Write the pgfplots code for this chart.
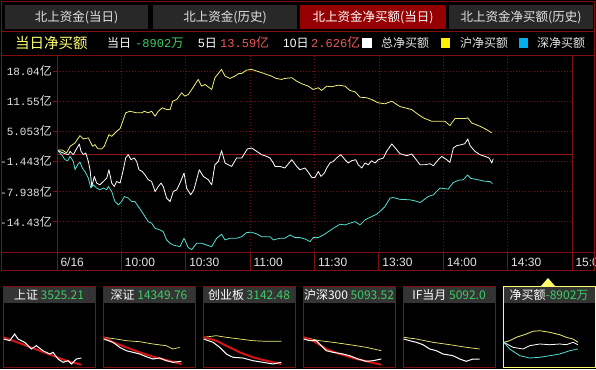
\documentclass[border=0pt]{standalone}
\usepackage{fontspec}
\usepackage{pgfplots}
\pgfplotsset{compat=1.18}
\setmainfont{Liberation Sans}
\newfontfamily\cjk{Noto Sans CJK SC}
\newfontfamily\mono{Liberation Mono}
\definecolor{frame}{RGB}{128,16,16}
\definecolor{griddk}{RGB}{110,18,18}
\definecolor{zerored}{RGB}{150,24,24}
\definecolor{tabgray}{RGB}{40,40,40}
\definecolor{tabred}{RGB}{150,0,0}
\definecolor{ylwline}{RGB}{240,240,120}
\definecolor{cyanline}{RGB}{80,222,210}
\definecolor{greentxt}{RGB}{60,205,100}
\definecolor{redtxt}{RGB}{240,85,85}
\definecolor{ylwtxt}{RGB}{255,255,110}
\definecolor{lbl}{RGB}{228,228,228}
\definecolor{hdr}{RGB}{52,52,52}
\definecolor{avgred}{RGB}{215,20,20}
\newcommand{\yl}[1]{{\mono\fontsize{11}{11}\selectfont #1}{\cjk\fontsize{12}{12}\selectfont 亿}}
\pgfplotsset{thumb/.style={hide axis, scale only axis, width=92pt, height=63pt,
  xmin=0, xmax=92, ymin=0, ymax=63, y dir=reverse, anchor=south west, clip=false}}
\begin{document}
\begin{tikzpicture}
\begin{scope}[x=1pt,y=1pt]
\path[fill=black] (0,0) rectangle (596,-369);
% tabs
\fill[tabgray] (5,-5) rectangle (148,-29);
\fill[tabgray] (153,-5) rectangle (297,-29);
\fill[tabred] (300,-5) rectangle (446,-29);
\fill[tabgray] (449,-5) rectangle (593,-29);
\node[text=lbl] at (76.5,-17) {\cjk\fontsize{12.5}{13}\selectfont 北上资金(当日)};
\node[text=lbl] at (225,-17) {\cjk\fontsize{12.5}{13}\selectfont 北上资金(历史)};
\node[text=white] at (373,-17) {\cjk\fontsize{12.5}{13}\selectfont 北上资金净买额(当日)};
\node[text=lbl] at (521,-17) {\cjk\fontsize{12.5}{13}\selectfont 北上资金净买额(历史)};
% info row
\node[anchor=west, text=ylwtxt, inner sep=0] at (15,-43) {\cjk\fontsize{14.5}{15}\selectfont 当日净买额};
\node[anchor=west, text=white, inner sep=0] at (107,-43) {\cjk\fontsize{12}{13}\selectfont 当日};
\node[anchor=west, text=greentxt, inner sep=0] at (135,-43) {{\mono\fontsize{12}{13}\selectfont -8902}{\cjk\fontsize{12.5}{13}\selectfont 万}};
\node[anchor=west, text=white, inner sep=0] at (198,-43) {{\fontsize{12}{13}\selectfont 5}{\cjk\fontsize{12}{13}\selectfont 日}};
\node[anchor=west, text=redtxt, inner sep=0] at (220,-43) {{\mono\fontsize{12}{13}\selectfont 13.59}{\cjk\fontsize{13}{13}\selectfont 亿}};
\node[anchor=west, text=white, inner sep=0] at (283,-43) {{\fontsize{12}{13}\selectfont 10}{\cjk\fontsize{12}{13}\selectfont 日}};
\node[anchor=west, text=redtxt, inner sep=0] at (311,-43) {{\mono\fontsize{12}{13}\selectfont 2.626}{\cjk\fontsize{13}{13}\selectfont 亿}};
\fill[white] (362,-38) rectangle (372,-48);
\node[anchor=west, text=lbl, inner sep=0] at (381,-43) {\cjk\fontsize{12}{13}\selectfont 总净买额};
\fill[yellow] (441,-38) rectangle (450,-48);
\node[anchor=west, text=lbl, inner sep=0] at (460,-43) {\cjk\fontsize{12}{13}\selectfont 沪净买额};
\fill[cyan] (519,-38) rectangle (528,-48);
\node[anchor=west, text=lbl, inner sep=0] at (537,-43) {\cjk\fontsize{12}{13}\selectfont 深净买额};
\end{scope}

\begin{axis}[at={(57pt,-252pt)}, anchor=south west, scale only axis,
  width=515pt, height=196.5pt,
  xmin=0, xmax=240, ymin=-21.0, ymax=21.4,
  axis line style={draw=frame},
  tick pos=left, tick align=outside, major tick length=4pt,
  x tick style={draw=none}, y tick style={draw=frame},
  xtick={0,30,60,90,120,150,180,210,240},
  xticklabels={6/16,10:00,10:30,11:00,11:30,13:30,14:00,14:30,15:00},
  xticklabel style={anchor=west, xshift=0pt, yshift=-6pt, font=\fontsize{12}{13}\selectfont, text=lbl},
  ytick={18.04,11.55,5.053,-1.443,-7.938,-14.43},
  yticklabels={\yl{18.04},\yl{11.55},\yl{5.053},\yl{-1.443},\yl{-7.938},\yl{-14.43}},
  yticklabel style={text=lbl, inner sep=1pt},
  grid=major, grid style={griddk, line width=0.6pt, dash pattern=on 0.8pt off 2.2pt},
  line join=round]
\addplot[zerored, line width=0.9pt] coordinates {(0,0) (240,0)};
\addplot[ylwline, line width=0.8pt] coordinates {(0,1.0)(2.5,1.0)(4.5,0.37)(6.1,1.80)(8.4,2.53)(10.7,4.11)(12.3,3.40)(14.6,3.62)(15.8,2.53)(16.6,1.80)(17.7,2.17)(19.0,1.30)(20.8,1.23)(22.0,1.80)(24.2,4.33)(25.5,3.96)(27.8,5.04)(29.4,5.63)(30.9,7.58)(32.0,9.03)(34.0,9.37)(37.1,9.03)(39.5,9.03)(40.7,9.37)(42.5,9.03)(44.1,9.37)(45.7,8.29)(47.2,9.37)(49.1,10.11)(51.1,9.74)(52.7,9.74)(53.9,11.54)(55.8,11.91)(58.1,13.36)(59.6,12.62)(61.2,12.99)(63.4,14.5)(65.8,16.24)(67.4,14.79)(69.0,15.16)(71.0,14.44)(72.1,14.07)(73.6,16.61)(76.7,18.40)(78.3,16.95)(80.6,16.45)(82.9,16.95)(84.5,17.47)(86.1,17.54)(88.4,18.25)(90.7,18.40)(93.1,18.03)(95.4,17.69)(97.7,17.32)(100.0,16.95)(102.1,16.45)(104.7,16.24)(106.2,16.45)(109.4,16.61)(111.7,15.87)(114.0,15.31)(117.1,14.79)(119.4,14.07)(121.8,14.44)(123.3,13.86)(125.7,14.79)(128.0,14.66)(131.1,15.00)(134.2,14.79)(136.5,13.86)(138.9,13.57)(141.2,12.41)(144.3,12.28)(146.6,11.91)(149.7,11.19)(152.8,10.98)(156.0,11.54)(159.8,10.39)(165.3,9.74)(168.4,8.66)(170.7,7.95)(174.6,7.21)(176.9,7.21)(180.8,7.21)(183.1,6.28)(185.5,7.79)(190.1,7.79)(191.4,7.95)(193.2,6.86)(197.1,6.13)(200.2,5.41)(202.6,4.70)};
\addplot[cyanline, line width=0.8pt] coordinates {(0,1.0)(2.2,0)(3.7,-1.08)(5.0,-1.30)(6.1,-0.37)(7.6,-1.45)(8.4,-3.25)(9.6,-2.17)(10.7,-1.58)(11.8,-2.88)(13.0,-3.62)(14.6,-5.04)(15.8,-7.21)(16.9,-6.50)(18.5,-7.21)(20.0,-7.58)(21.6,-7.21)(23.2,-7.58)(23.9,-6.86)(25.5,-7.95)(27.0,-10.11)(28.6,-10.83)(30.1,-10.11)(31.4,-9.03)(33.2,-9.37)(34.8,-10.11)(36.3,-10.11)(37.9,-11.19)(39.5,-12.28)(41.0,-13.36)(42.5,-14.44)(44.1,-14.79)(45.7,-15.87)(48.0,-16.24)(49.5,-16.61)(51.1,-18.40)(52.7,-19.12)(54.2,-19.49)(57.3,-19.85)(59.2,-18.03)(61.2,-20.07)(62.8,-20.46)(65.1,-19.12)(67.4,-19.12)(69.8,-19.49)(72.1,-19.85)(74.4,-18.03)(76.7,-17.17)(78.3,-18.40)(80.6,-18.03)(83.7,-18.03)(86.1,-17.69)(88.4,-16.78)(90.7,-16.74)(93.1,-17.10)(95.4,-17.69)(99.3,-17.69)(100.8,-18.40)(103.9,-18.03)(106.2,-18.03)(108.6,-17.32)(110.9,-17.90)(113.2,-17.90)(115.6,-18.19)(117.9,-18.77)(119.4,-17.90)(121.8,-17.90)(124.1,-17.32)(126.4,-16.61)(128.8,-15.87)(131.9,-15.00)(134.2,-15.16)(136.5,-14.79)(138.9,-14.44)(141.2,-15.16)(143.5,-14.07)(146.6,-13.36)(149.0,-12.84)(151.3,-11.91)(152.8,-11.19)(155.2,-9.37)(156.7,-9.24)(159.8,-9.63)(164.5,-9.74)(166.8,-9.96)(169.2,-10.33)(173.0,-9.03)(175.4,-8.66)(178.5,-7.21)(182.3,-7.43)(184.7,-6.00)(187.0,-5.52)(189.3,-5.41)(191.3,-4.39)(192.9,-5.13)(196.2,-5.41)(199.4,-5.74)(201.8,-5.78)(202.9,-6.28)};
\addplot[white, line width=0.8pt] coordinates {(0,1.0)(2.2,0.50)(3.7,0.22)(5.3,0)(6.1,0.71)(7.6,0)(10.4,2.32)(11.2,0.71)(12.3,0)(13.4,0.37)(14.6,-1.45)(15.4,-3.25)(16.2,-6.86)(17.4,-4.70)(18.5,-6.13)(20.0,-6.50)(21.6,-5.78)(23.2,-5.04)(24.2,-3.25)(25.5,-6.13)(26.7,-6.86)(27.8,-5.78)(29.4,-6.13)(30.9,-3.25)(32.0,-0.71)(33.2,0)(34.5,-1.08)(36.0,-0.71)(37.1,-1.45)(38.2,-3.25)(39.7,-3.62)(41.0,-4.33)(42.5,-5.41)(44.1,-5.78)(45.7,-7.95)(47.2,-6.86)(48.5,-6.13)(49.5,-6.86)(51.1,-9.37)(52.7,-10.11)(54.2,-7.95)(55.8,-7.58)(57.3,-6.13)(59.2,-3.96)(60.4,-7.21)(62.3,-8.66)(63.8,-7.58)(66.3,-3.25)(68.2,-4.70)(70.5,-5.41)(72.1,-6.50)(73.6,-2.17)(75.2,-1.45)(76.7,0.87)(78.3,-1.80)(79.8,-2.17)(81.4,-2.53)(83.7,-0.71)(86.1,-0.71)(88.7,1.23)(90.7,1.45)(93.1,0.71)(95.4,0)(97.7,-0.37)(99.3,-0.71)(100.8,-1.80)(101.6,-2.53)(103.9,-2.53)(106.2,-2.88)(109.4,-1.08)(111.7,-2.53)(113.2,-3.25)(115.6,-2.88)(117.4,-3.96)(118.7,-4.91)(120.2,-4.91)(121.8,-3.62)(123.0,-4.70)(124.6,-3.96)(125.7,-2.88)(127.2,-1.80)(128.8,-1.45)(130.3,-0.71)(132.3,0)(134.2,-1.08)(135.7,-1.80)(137.3,-1.30)(139.2,-1.08)(140.4,-2.17)(142.0,-2.88)(143.5,-1.80)(145.1,-2.17)(146.6,-1.30)(148.2,-1.80)(149.7,-1.08)(152.1,-0.71)(153.6,0.71)(156.0,2.32)(158.3,1.08)(159.8,0.22)(163.0,-0.22)(165.3,0.15)(166.8,-0.71)(169.2,-2.17)(171.5,-2.17)(173.8,-1.95)(175.4,-2.38)(177.7,-1.08)(179.3,-0.37)(181.6,-1.08)(183.1,-1.67)(184.7,1.45)(186.3,1.95)(188.6,2.17)(190.1,2.38)(191.4,3.40)(192.5,1.95)(194.8,0.71)(197.1,0)(199.4,-0.37)(201.4,-0.71)(202.6,-1.80)(203.3,-0.87)};
\end{axis}

\begin{scope}[x=1pt,y=1pt]
% frame
\draw[frame, line width=0.9pt] (1,-1.5) rectangle (594.5,-270.5);
\draw[frame, line width=0.9pt] (1,-31.5) -- (594.5,-31.5);
\draw[frame, line width=0.9pt] (1,-55.5) -- (594.5,-55.5);
\draw[frame, line width=0.9pt] (1,-252) -- (594.5,-252);
\draw[frame, line width=0.9pt] (57,-55.5) -- (57,-270.5);
\foreach \k in {1,...,8} {\draw[frame, line width=0.9pt] ({57+64.375*\k},-252) -- ({57+64.375*\k},-270.5);}
\draw[frame, line width=0.9pt] (572,-55.5) -- (572,-252);
% thumbnails
\foreach \bx/\nm/\val in {3/上证/3525.21, 103/深证/14349.76, 203/创业板/3142.48, 303/沪深300/5093.52, 403/IF当月/5092.0}{
  \fill[hdr] (\bx,-286) rectangle ({\bx+92},-303);
  \draw[frame, line width=0.9pt] (\bx,-286) rectangle ({\bx+92},-367);
  \node[inner sep=0] at ({\bx+46},-294.5) {\cjk\fontsize{12}{13}\selectfont\color{white}\nm\ \color{greentxt}\val};
}
\fill[hdr] (503,-286) rectangle (595,-303);
\draw[ylwtxt, line width=0.9pt] (503,-286) rectangle (595,-367.5);
\node[inner sep=0] at (549,-294.5) {\cjk\fontsize{12}{13}\selectfont\color{white}净买额\color{greentxt}-8902万};
\fill[ylwtxt] (541,-286) -- (555,-286) -- (548,-278) -- cycle;
\end{scope}

\begin{axis}[thumb, at={(3pt,-367pt)}]
\addplot[avgred, line width=2pt] coordinates {(0.7,33.3)(10,36.7)(23.3,41.7)(36.7,46.7)(50,51.7)(63.3,56.7)(78.3,60.7)};
\addplot[white, line width=1pt] coordinates {(0.7,35)(6.7,36.7)(11.7,30)(15,35)(21.7,38.3)(28.3,45)(33.3,41.7)(40,46.7)(46.7,50)(50,48.3)(55,55)(60,58.3)(65,56.7)(68.3,60)(73.3,55)(78.3,54)};
\end{axis}
\begin{axis}[thumb, at={(103pt,-367pt)}]
\addplot[ylwline, line width=0.7pt] coordinates {(0.7,33.3)(13.3,35)(23.3,36.7)(36.7,37.7)(50,40)(63.3,41.7)(70,45)(76.7,43.3)};
\addplot[avgred, line width=2pt] coordinates {(0.7,33.3)(10,38.3)(23.3,43.3)(36.7,48.3)(50,52.7)(63.3,56)(78.3,60)};
\addplot[white, line width=1pt] coordinates {(0.7,35)(10,38.3)(16.7,43.3)(23.3,46.7)(30,48.3)(36.7,50)(43.3,52.7)(50,55)(56.7,54)(63.3,56.7)(70,58.3)(78.3,57.3)};
\end{axis}
\begin{axis}[thumb, at={(203pt,-367pt)}]
\addplot[ylwline, line width=0.7pt] coordinates {(0.7,33.3)(13.3,31.7)(23.3,33.3)(36.7,35)(50,36.7)(63.3,37.3)(78.3,37.3)};
\addplot[avgred, line width=2pt] coordinates {(0.7,33.3)(13.3,36.7)(23.3,41.7)(36.7,48.3)(50,53.3)(63.3,56.7)(78.3,60)};
\addplot[white, line width=1pt] coordinates {(0.7,35)(10,38.3)(16.7,43.3)(23.3,50)(30,53.3)(40,54)(50,56.7)(60,58.3)(70,60)(78.3,58.3)};
\end{axis}
\begin{axis}[thumb, at={(303pt,-367pt)}]
\addplot[ylwline, line width=0.7pt] coordinates {(0.7,33.3)(16.7,36.7)(30,38.3)(46.7,40.7)(63.3,43.3)(78.3,46.7)};
\addplot[avgred, line width=2pt] coordinates {(0.7,33.3)(10,36.7)(23.3,45)(36.7,50)(50,54)(63.3,57.3)(78.3,60.7)};
\addplot[white, line width=1pt] coordinates {(0.7,35)(6.7,36.7)(13.3,36.7)(18.3,41.7)(23.3,46.7)(30,48.3)(40,50)(46.7,51.7)(55,55)(63.3,57.3)(70,56.7)(78.3,55)};
\end{axis}
\begin{axis}[thumb, at={(403pt,-367pt)}]
\addplot[ylwline, line width=0.7pt] coordinates {(0.7,33.3)(13.3,35)(30,38.3)(46.7,40.7)(63.3,43.3)(76.7,45)};
\addplot[white, line width=1pt] coordinates {(0.7,35)(6.7,36.7)(13.3,38.3)(20,40.7)(26.7,45)(33.3,46.7)(40,50)(50,51.7)(56.7,55)(63.3,57.3)(70,55)(76.7,55)};
\end{axis}
\begin{axis}[thumb, at={(503pt,-367pt)}]
\addplot[ylwline, line width=0.8pt] coordinates {(0.7,38.3)(6.7,36.7)(13.3,33.3)(23.3,30)(30,27.3)(36.7,26.7)(46.7,28.3)(56.7,30.7)(63.3,33.3)(70,35)(75,38.3)};
\addplot[white, line width=0.8pt] coordinates {(0.7,38.3)(10,43.3)(20,45)(26.7,41.7)(36.7,40)(46.7,40.7)(56.7,40)(63.3,40.7)(70,38.3)(75,40.7)};
\addplot[cyanline, line width=0.8pt] coordinates {(0.7,38.3)(6.7,45)(16.7,51.7)(26.7,54)(36.7,53.3)(46.7,51.7)(56.7,50)(66.7,46.7)(75,45)};
\end{axis}
\pgfresetboundingbox
\path[use as bounding box] (0pt,0pt) rectangle (596pt,-369pt);
\end{tikzpicture}
\end{document}
